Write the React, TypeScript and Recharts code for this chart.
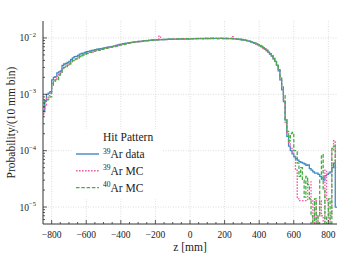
import { CartesianGrid, Line, LineChart, XAxis, YAxis } from "recharts"

document.body.style.margin = "0"

const FONT = '"Liberation Serif", "DejaVu Serif", serif'
const AXIS = "#333"
const TEXT = "#1a1a1a"

// histogram bins: 10 mm wide, first bin starts at -850 mm
const zRange = [-850, 850]
const binWidth = 10

// probability per 10 mm bin, in units of 1e-3
const ar39Data = [
  0.50, 0.78, 1.00, 1.05, 1.12, 1.80, 2.00, 2.05, 2.40, 2.50,
  2.60, 3.25, 3.45, 3.55, 3.70, 3.85, 4.15, 4.45, 4.65, 4.70,
  4.90, 5.15, 5.30, 5.40, 5.55, 5.70, 5.78, 5.90, 6.00, 6.10,
  6.20, 6.30, 6.38, 6.45, 6.55, 6.65, 6.75, 6.85, 6.95, 7.00,
  7.10, 7.25, 7.40, 7.55, 7.70, 7.80, 7.90, 8.00, 8.10, 8.20,
  8.28, 8.35, 8.42, 8.50, 8.58, 8.65, 8.72, 8.78, 8.85, 8.92,
  9.00, 9.05, 9.10, 9.15, 9.20, 9.25, 9.30, 9.32, 9.35, 9.38,
  9.40, 9.42, 9.45, 9.48, 9.50, 9.50, 9.52, 9.55, 9.56, 9.58,
  9.60, 9.55, 9.62, 9.65, 9.50, 9.60, 9.68, 9.70, 9.72, 9.70,
  9.72, 9.75, 9.74, 9.76, 9.78, 9.75, 9.78, 9.80, 9.78, 9.80,
  9.80, 9.78, 9.82, 9.80, 9.78, 9.80, 9.76, 9.75, 9.72, 9.70,
  9.66, 9.60, 9.55, 9.48, 9.40, 9.30, 9.20, 9.05, 8.90, 8.72,
  8.50, 8.30, 8.10, 7.85, 7.60, 7.30, 7.00, 6.70, 6.35, 6.00,
  5.60, 5.20, 4.75, 4.30, 3.85, 3.30, 2.60, 1.80, 1.20, 0.74,
  0.35, 0.18, 0.12, 0.10, 0.088, 0.078, 0.072, 0.068, 0.064, 0.062,
  0.060, 0.058, 0.055, 0.056, 0.048, 0.045, 0.042, 0.040, 0.040, 0.038,
  0.035, 0.033, 0.030, 0.036, 0.038, 0.040, 0.042, 0.050, 0.060, 0.010,
]

const ar39MC = [
  0.45, 0.65, 0.85, 0.95, 1.05, 1.55, 1.75, 1.85, 2.10, 2.25,
  2.40, 2.85, 3.05, 3.20, 3.35, 3.55, 3.75, 4.00, 4.20, 4.30,
  4.45, 4.75, 4.85, 5.05, 5.20, 5.35, 5.45, 5.65, 5.60, 5.85,
  5.95, 6.10, 6.05, 6.30, 6.35, 6.50, 6.55, 6.75, 6.80, 6.90,
  7.05, 7.10, 7.30, 7.35, 7.55, 7.60, 7.70, 7.90, 8.00, 8.20,
  8.25, 8.35, 8.40, 8.50, 8.55, 8.70, 8.65, 8.80, 8.90, 8.95,
  9.05, 9.00, 9.20, 9.10, 9.30, 9.25, 9.40, 10.8, 9.35, 9.40,
  9.45, 9.35, 9.50, 9.55, 9.45, 9.60, 9.50, 9.65, 9.55, 9.60,
  9.65, 9.50, 9.70, 9.60, 9.55, 9.70, 9.75, 9.60, 9.80, 9.70,
  9.75, 9.80, 9.65, 9.85, 9.75, 9.70, 9.85, 9.75, 9.90, 9.80,
  9.85, 9.70, 9.90, 9.80, 9.75, 9.85, 9.70, 9.80, 9.80, 10.5,
  9.70, 9.55, 9.60, 9.45, 9.45, 9.25, 9.25, 9.00, 8.95, 8.70,
  8.55, 8.25, 8.15, 7.80, 7.65, 7.25, 7.05, 6.60, 6.40, 5.90,
  5.65, 5.10, 4.80, 4.20, 3.90, 3.20, 2.70, 1.75, 1.30, 0.80,
  0.30, 0.20, 0.14, 0.11, 0.090, 0.080, 0.045, 0.014, 0.013, 0.013,
  0.013, 0.013, 0.013, 0.028, 0.028, 0.013, 0, 0.013, 0, 0.007,
  0.013, 0.007, 0, 0.045, 0.013, 0, 0.007, 0.10, 0.15, 0.06,
]

const ar40MC = [
  0.60, 0.75, 0.80, 0.82, 0.90, 1.45, 1.70, 1.80, 1.80, 2.20,
  2.30, 2.70, 3.00, 3.10, 3.25, 3.45, 3.70, 3.95, 4.15, 4.25,
  4.40, 4.65, 4.80, 5.00, 5.10, 5.30, 5.40, 5.55, 5.65, 5.80,
  5.90, 6.00, 6.10, 6.20, 6.30, 6.45, 6.55, 6.65, 6.75, 6.85,
  7.00, 7.05, 7.20, 7.30, 7.45, 7.55, 7.65, 7.80, 7.90, 8.05,
  8.15, 8.25, 8.35, 8.45, 8.50, 8.60, 8.70, 8.75, 8.85, 8.90,
  9.00, 9.05, 9.10, 9.20, 9.20, 9.30, 9.30, 9.35, 9.40, 9.35,
  9.45, 9.45, 9.50, 9.45, 9.55, 9.55, 9.60, 9.55, 9.60, 9.65,
  9.60, 9.65, 9.60, 9.70, 9.65, 9.70, 9.75, 9.70, 9.75, 9.80,
  9.75, 9.80, 9.80, 9.75, 9.85, 9.80, 9.80, 9.85, 9.80, 9.85,
  9.80, 9.85, 9.80, 9.85, 9.80, 9.75, 9.80, 9.75, 9.70, 9.70,
  9.65, 9.60, 9.55, 9.50, 9.40, 9.30, 9.20, 9.05, 8.90, 8.75,
  8.55, 8.35, 8.10, 7.90, 7.60, 7.35, 7.05, 6.75, 6.40, 6.05,
  5.70, 5.25, 4.80, 4.40, 3.90, 3.40, 2.75, 1.95, 1.35, 0.95,
  0.35, 0.22, 0.15, 0.20, 0.21, 0.10, 0.095, 0.06, 0.035, 0.05,
  0.03, 0.015, 0.035, 0.025, 0.014, 0.007, 0, 0.014, 0, 0.007,
  0.03, 0.085, 0.02, 0, 0.007, 0.014, 0, 0.11, 0.12, 0.05,
]

const xMajorTicks = [-800, -600, -400, -200, 0, 200, 400, 600, 800]
const xMinorStep = 50
const yMajorTicks = [1e-5, 1e-4, 1e-3, 1e-2]
const yMinorFactors = [2, 3, 4, 5, 6, 7, 8, 9]
const yDomain = [5e-6, 2e-2]

const series = [
  { key: "ar39Data", values: ar39Data, color: "#3b8bc6", dash: undefined, mass: "39", label: "Ar data" },
  { key: "ar39MC", values: ar39MC, color: "#ee5fa7", dash: "1.6 1.4", mass: "39", label: "Ar MC" },
  { key: "ar40MC", values: ar40MC, color: "#44ad44", dash: "3.5 1.8", mass: "40", label: "Ar MC" },
]

// empty bins sit far below the axis so the step line drops out of view
const EMPTY = 1e-8
const toProb = (v: number) => (v > 0 ? v * 1e-3 : EMPTY)

const chartData = ar39Data.map((_, i) => ({
  z: zRange[0] + i * binWidth,
  ar39Data: toProb(ar39Data[i]),
  ar39MC: toProb(ar39MC[i]),
  ar40MC: toProb(ar40MC[i]),
}))
// closing edge of the last bin
const last = ar39Data.length - 1
chartData.push({
  z: zRange[1],
  ar39Data: toProb(ar39Data[last]),
  ar39MC: toProb(ar39MC[last]),
  ar40MC: toProb(ar40MC[last]),
})

const xTicks: number[] = []
for (let v = xMajorTicks[0]; v <= xMajorTicks[xMajorTicks.length - 1]; v += xMinorStep) xTicks.push(v)

const yTicks: number[] = []
for (const major of [1e-6, ...yMajorTicks]) {
  if (major >= yDomain[0] && major <= yDomain[1]) yTicks.push(major)
  for (const f of yMinorFactors) {
    const v = f * major
    if (v > yDomain[0] && v < yDomain[1] && !yMajorTicks.includes(v)) yTicks.push(v)
  }
}

const fmtX = (v: number) => (v < 0 ? `\u2212${-v}` : `${v}`)
const isDecade = (v: number) => {
  const e = Math.log10(v)
  return Math.abs(e - Math.round(e)) < 1e-6
}

function BottomTick({ x, y, payload }: any) {
  const major = xMajorTicks.includes(payload.value)
  return (
    <g>
      <line x1={x} x2={x} y1={y} y2={y - (major ? 4 : 2)} stroke={AXIS} strokeWidth={0.8} />
      {major && (
        <text x={x} y={y + 13.5} textAnchor="middle" fontSize={9.5} fill={TEXT} fontFamily={FONT}>
          {fmtX(payload.value)}
        </text>
      )}
    </g>
  )
}

function TopTick({ x, y, payload }: any) {
  const major = xMajorTicks.includes(payload.value)
  return <line x1={x} x2={x} y1={y} y2={y + (major ? 4 : 2)} stroke={AXIS} strokeWidth={0.8} />
}

function LeftTick({ x, y, payload }: any) {
  const major = isDecade(payload.value)
  const exp = Math.round(Math.log10(payload.value))
  return (
    <g>
      <line x1={x} x2={x + (major ? 4 : 2)} y1={y} y2={y} stroke={AXIS} strokeWidth={0.8} />
      {major && (
        <text x={x - 7} y={y + 3.5} textAnchor="end" fontSize={9.5} fill={TEXT} fontFamily={FONT}>
          <tspan>10</tspan>
          <tspan dy={-4.5} fontSize={6.5}>
            {`\u2212${-exp}`}
          </tspan>
        </text>
      )}
    </g>
  )
}

function RightTick({ x, y, payload }: any) {
  const major = isDecade(payload.value)
  return <line x1={x} x2={x - (major ? 4 : 2)} y1={y} y2={y} stroke={AXIS} strokeWidth={0.8} />
}

function YTitle({ viewBox }: any) {
  const cy = viewBox.y + viewBox.height / 2
  return (
    <text
      x={11}
      y={cy}
      transform={`rotate(-90, 11, ${cy})`}
      textAnchor="middle"
      dominantBaseline="central"
      fontSize={11.5}
      fill={TEXT}
      fontFamily={FONT}
    >
      Probability/(10 mm bin)
    </text>
  )
}

function XTitle({ viewBox }: any) {
  const cx = viewBox.x + viewBox.width / 2
  return (
    <text x={cx} y={251} textAnchor="middle" fontSize={11.5} fill={TEXT} fontFamily={FONT}>
      z [mm]
    </text>
  )
}

function HitLegend() {
  return (
    <svg width={90} height={70} style={{ position: "absolute", left: 73, top: 129 }}>
      <rect x={0} y={0} width={90} height={70} fill="#fff" />
      <text x={30} y={11.5} fontSize={11.5} fill={TEXT} fontFamily={FONT}>
        Hit Pattern
      </text>
      {series.map((s, i) => {
        const cy = 25 + i * 16.8
        return (
          <g key={s.key}>
            <line x1={3} x2={26} y1={cy} y2={cy} stroke={s.color} strokeWidth={1.4} strokeDasharray={s.dash} />
            <text x={30} y={cy + 4} fontSize={11.5} fill={TEXT} fontFamily={FONT}>
              <tspan fontSize={7.5} dy={-4.5}>
                {s.mass}
              </tspan>
              <tspan dy={4.5}>{s.label}</tspan>
            </text>
          </g>
        )
      })}
    </svg>
  )
}

export default function App() {
  return (
    <div style={{ position: "relative", width: 359, height: 258, background: "#fff" }}>
      <LineChart width={359} height={258} data={chartData} margin={{ top: 21, right: 22, bottom: 0, left: 0 }}>
        <CartesianGrid
          xAxisId="b"
          yAxisId="l"
          verticalValues={xMajorTicks}
          horizontalValues={yMajorTicks}
          stroke="#cfcfcf"
          strokeDasharray="1 1.5"
          strokeWidth={0.7}
        />
        <XAxis
          xAxisId="b"
          dataKey="z"
          type="number"
          domain={zRange}
          allowDataOverflow
          ticks={xTicks}
          interval={0}
          height={34}
          tickSize={0}
          tickMargin={0}
          tickLine={false}
          axisLine={{ stroke: AXIS, strokeWidth: 1 }}
          tick={BottomTick}
          label={<XTitle />}
        />
        <XAxis
          xAxisId="t"
          orientation="top"
          dataKey="z"
          type="number"
          domain={zRange}
          allowDataOverflow
          ticks={xTicks}
          interval={0}
          height={0}
          tickSize={0}
          tickMargin={0}
          tickLine={false}
          axisLine={{ stroke: AXIS, strokeWidth: 1 }}
          tick={TopTick}
        />
        <YAxis
          yAxisId="l"
          scale="log"
          type="number"
          domain={yDomain}
          allowDataOverflow
          ticks={yTicks}
          interval={0}
          width={43}
          tickSize={0}
          tickMargin={0}
          tickLine={false}
          axisLine={{ stroke: AXIS, strokeWidth: 1 }}
          tick={LeftTick}
          label={<YTitle />}
        />
        <YAxis
          yAxisId="r"
          orientation="right"
          scale="log"
          type="number"
          domain={yDomain}
          allowDataOverflow
          ticks={yTicks}
          interval={0}
          width={0}
          tickSize={0}
          tickMargin={0}
          tickLine={false}
          axisLine={{ stroke: AXIS, strokeWidth: 1 }}
          tick={RightTick}
        />
        {series.map((s) => (
          <Line
            key={s.key}
            xAxisId="b"
            yAxisId="l"
            dataKey={s.key}
            type="stepAfter"
            stroke={s.color}
            strokeWidth={1.3}
            strokeDasharray={s.dash}
            dot={false}
            activeDot={false}
            isAnimationActive={false}
          />
        ))}
      </LineChart>
      <HitLegend />
    </div>
  )
}
